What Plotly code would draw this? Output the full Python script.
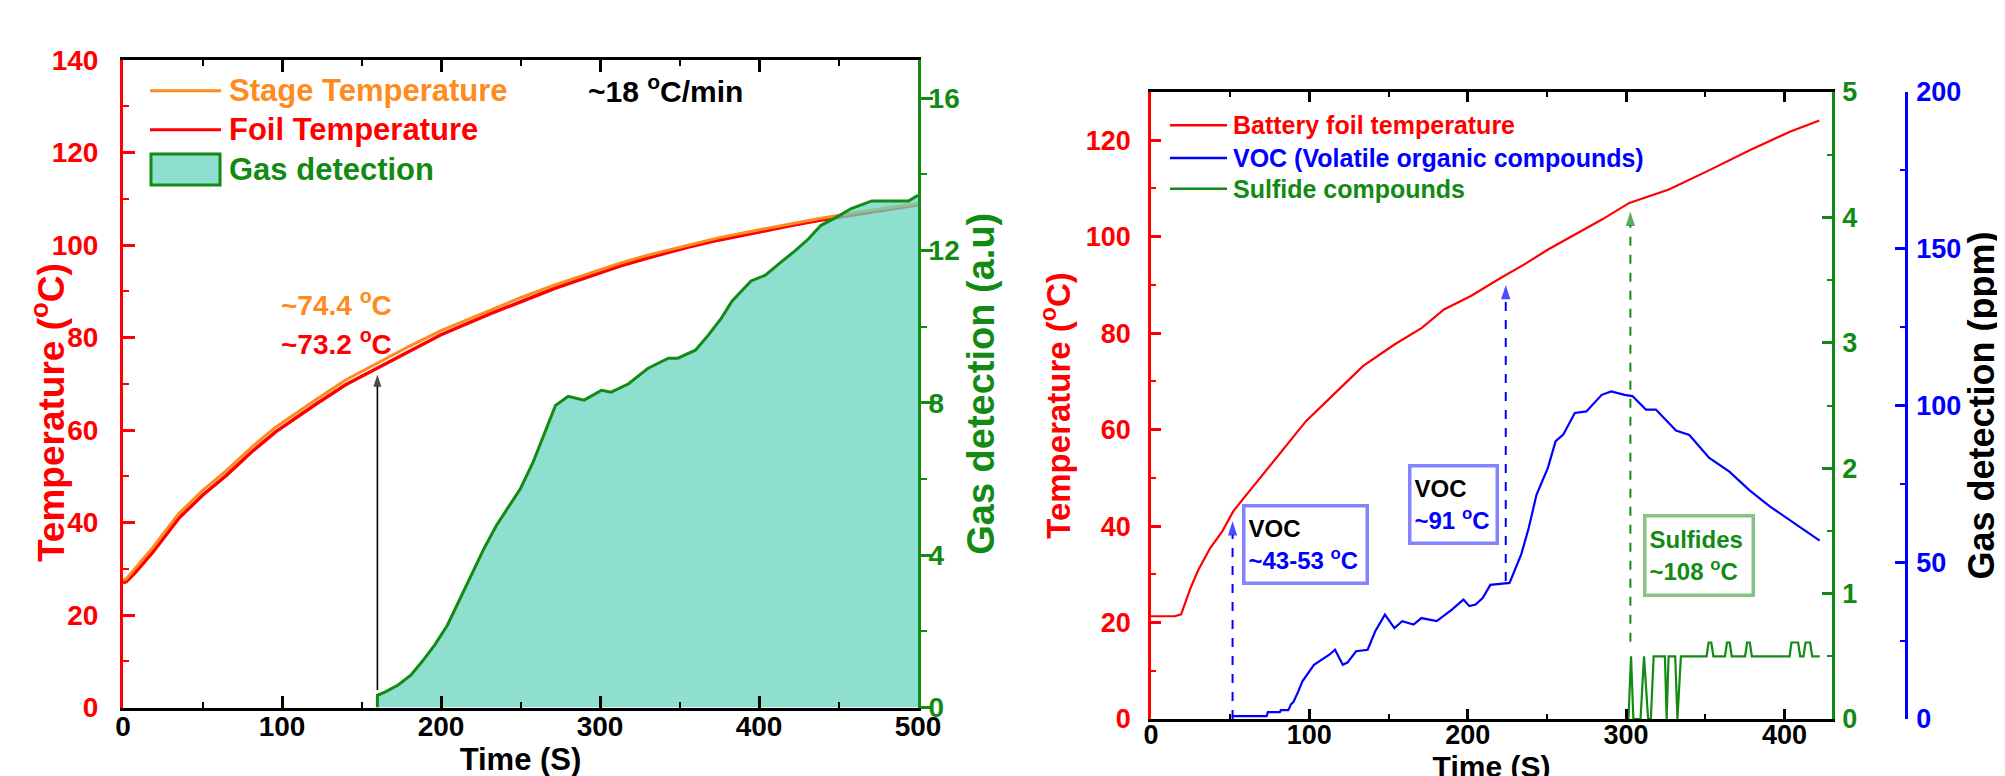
import plotly.graph_objects as go

W, H = 2005, 776

# ---------------- Left panel data ----------------
t_left = [0, 2, 8, 19, 35, 50, 65, 81, 96, 111, 121, 140, 160, 180, 200, 230, 250,
          272, 300, 313, 330, 355, 375, 397, 420, 439, 460, 480, 500]
foil_temp = [27.0, 27.2, 29.3, 33.7, 40.9, 45.9, 50.2, 55.3, 59.6, 63.2, 65.5, 69.8, 73.4,
             77.2, 80.6, 85.0, 87.8, 90.7, 94.0, 95.5, 97.2, 99.5, 101.1, 102.7, 104.2,
             105.4, 106.6, 107.7, 108.7]
stage_temp = [27.5, 27.8, 30.2, 34.7, 41.9, 46.9, 51.2, 56.3, 60.6, 64.2, 66.5, 70.8, 74.4,
              78.1, 81.5, 85.8, 88.6, 91.4, 94.6, 96.1, 97.8, 100.0, 101.6, 103.1, 104.6,
              105.8, 107.0, 108.0, 109.0]
gas_t = [160, 160, 165, 173, 181, 188, 196, 204, 211, 219, 227, 235, 242, 250, 258, 265,
         272, 280, 290, 301, 307, 318, 330, 343, 349, 360, 368, 376, 383, 395, 404, 414,
         423, 431, 439, 450, 458, 471, 481, 494, 500]
gas_signal = [0, 0.32, 0.41, 0.59, 0.85, 1.2, 1.64, 2.16, 2.77, 3.47, 4.17, 4.79, 5.23, 5.75,
              6.45, 7.2, 7.93, 8.17, 8.07, 8.33, 8.28, 8.5, 8.9, 9.17, 9.17, 9.38, 9.77,
              10.2, 10.67, 11.2, 11.35, 11.7, 12.0, 12.3, 12.66, 12.9, 13.1, 13.3, 13.3,
              13.3, 13.45]
left_arrow_t = [160, 160]
left_arrow_y = [3.8, 72.0]

# ---------------- Right panel data ----------------
t_right = [0, 15, 19, 22, 25, 30, 37.5, 45, 52, 62, 74, 86, 98, 110, 120, 134, 154, 171,
           185, 202, 221, 236, 251, 268, 285, 302, 327, 352, 378, 403, 422]
battery_temp = [21.3, 21.3, 21.7, 24.4, 27.2, 31.0, 35.5, 38.9, 43.1, 47.2, 52.1, 56.9,
                61.8, 65.6, 68.7, 73.2, 77.7, 81.1, 84.9, 87.7, 91.5, 94.3, 97.4, 100.5,
                103.6, 107.0, 109.8, 113.7, 117.9, 121.7, 124.1]
voc_t = [51, 60, 73, 73.8, 81.4, 82, 86.7, 88.3, 90, 93, 95.6, 102.9, 112.6, 116.2, 121.1,
         124, 129.5, 136.8, 141.6, 147.7, 153.7, 158.6, 165.8, 170.7, 180.4, 190, 197.3,
         201, 205, 209.4, 214.3, 226.4, 233.7, 238.5, 243.4, 250.6, 255.5, 260.3, 267.6,
         274.9, 284.6, 290.6, 299, 304, 312.5, 318.8, 331.5, 339.9, 352.5, 365.2, 377.8,
         390.5, 403.2, 422.2]
voc_ppm = [0.9, 0.9, 0.9, 2.2, 2.2, 2.8, 2.8, 4.6, 5.5, 8.8, 12, 17.3, 20.5, 22.1, 17.3, 18,
           21.6, 22.1, 28, 33.3, 29, 31.2, 30.1, 32.2, 31.2, 34.9, 38.1, 36, 36.5, 38.6,
           42.8, 43.4, 52.4, 60.9, 71.5, 80.1, 88.6, 90.7, 97.6, 98.1, 103.4, 104.5, 103.4,
           103, 98.7, 98.7, 92, 90.6, 83.3, 78.9, 73, 67.9, 63.5, 56.9]
sulfide_t = [301.5, 303.1, 304.6, 309.1, 311.3, 313.9, 315.6, 317.4, 324.5, 325.6, 326.8,
             331, 332.4, 334.6, 350.8, 352.1, 353.8, 355.1, 362.4, 363.7, 365.4, 366.7,
             375.1, 376.4, 378.1, 379.4, 403.2, 404.4, 408.6, 409.9, 412, 413.3, 416.2,
             417.5, 422.2]
sulfide_signal = [0, 0.5, 0, 0, 0.5, 0, 0, 0.5, 0.5, 0, 0.5, 0.5, 0, 0.5, 0.5, 0.61, 0.61,
                  0.5, 0.5, 0.61, 0.61, 0.5, 0.5, 0.61, 0.61, 0.5, 0.5, 0.61, 0.61, 0.5,
                  0.5, 0.61, 0.61, 0.5, 0.5]
right_arrow_t = [51.5, 224, 302.7]
right_arrow_from = [0, 28.6, 16]
right_arrow_to = [41.0, 90.0, 105.2]

# ---------------- styling ----------------
FONT = "Liberation Sans"
RED = "#FF0000"
ORANGE = "#FF8A1E"
GREEN = "#138A13"
BLUE = "#0000FF"
TEAL = "#8EDFD0"
BOXBLUE = "#8484FF"
BOXGREEN = "#84C484"


def px(x):
    return x / W


def py(y):
    return 1 - y / H


def bfont(size, color):
    return dict(family=FONT, size=size, color=color, weight="bold")


fig = go.Figure()

# Left panel traces
fig.add_trace(go.Scatter(x=t_left, y=foil_temp, name="Foil Temperature", mode="lines",
                         line=dict(color=RED, width=3.5), xaxis="x", yaxis="y"))
fig.add_trace(go.Scatter(x=t_left, y=stage_temp, name="Stage Temperature", mode="lines",
                         line=dict(color=ORANGE, width=3), xaxis="x", yaxis="y"))
fig.add_trace(go.Scatter(x=left_arrow_t, y=left_arrow_y, name="arrow", mode="lines+markers",
                         line=dict(color="black", width=1.6),
                         marker=dict(symbol="arrow", size=[0, 13], angleref="previous",
                                     color="black", line=dict(width=0)),
                         xaxis="x", yaxis="y", showlegend=False))
fig.add_trace(go.Scatter(x=gas_t, y=gas_signal, name="Gas detection", mode="lines",
                         fill="tozeroy", fillcolor="rgba(104,212,192,0.75)",
                         line=dict(color=GREEN, width=3), xaxis="x", yaxis="y2"))

# Right panel traces
fig.add_trace(go.Scatter(x=t_right, y=battery_temp, name="Battery foil temperature",
                         mode="lines", line=dict(color=RED, width=2.2),
                         xaxis="x2", yaxis="y3"))
arrow_cols = ["#0000FF", "#0000FF", "#138A13"]
for t, y0, y1, col in zip(right_arrow_t, right_arrow_from, right_arrow_to, arrow_cols):
    fig.add_trace(go.Scatter(x=[t, t], y=[y0, y1], mode="lines+markers", showlegend=False,
                             line=dict(color=col, width=2, dash="dash"),
                             marker=dict(symbol="arrow", size=[0, 15], angleref="previous",
                                         color=col, line=dict(width=0)),
                             xaxis="x2", yaxis="y3"))
fig.add_trace(go.Scatter(x=sulfide_t, y=sulfide_signal, name="Sulfide compounds",
                         mode="lines", line=dict(color=GREEN, width=2.2),
                         xaxis="x2", yaxis="y4"))
fig.add_trace(go.Scatter(x=voc_t, y=voc_ppm, name="VOC (Volatile organic compounds)",
                         mode="lines", line=dict(color=BLUE, width=2.2),
                         xaxis="x2", yaxis="y5"))

common = dict(showgrid=False, zeroline=False, showline=True)

fig.update_layout(
    width=W, height=H, template="none",
    margin=dict(l=0, r=0, t=0, b=0),
    paper_bgcolor="white", plot_bgcolor="rgba(0,0,0,0)",
    showlegend=False,
    xaxis=dict(
        **common, domain=[px(115), px(910)], range=[0, 500], anchor="y",
        linecolor="black", linewidth=3, mirror="ticks",
        ticks="inside", ticklen=12, tickwidth=2.5, tickcolor="black",
        tick0=0, dtick=100,
        minor=dict(dtick=50, ticks="inside", ticklen=6, tickwidth=2, tickcolor="black"),
        tickfont=bfont(28, "black"), ticklabelstandoff=-8,
        title=dict(text="Time (S)", font=bfont(31, "black"), standoff=0),
    ),
    yaxis=dict(
        **common, domain=[py(699.5), py(52)], range=[0, 140], anchor="x",
        linecolor=RED, linewidth=3,
        ticks="inside", ticklen=12, tickwidth=2.5, tickcolor=RED,
        tick0=0, dtick=20,
        minor=dict(dtick=10, ticks="inside", ticklen=6, tickwidth=2, tickcolor=RED),
        tickfont=bfont(28, RED), ticklabelstandoff=16,
    ),
    yaxis2=dict(
        **common, overlaying="y", side="right", anchor="x", range=[0, 17],
        linecolor=GREEN, linewidth=3,
        ticks="outside", ticklen=12, tickwidth=2.5, tickcolor=GREEN,
        tick0=0, dtick=4,
        minor=dict(dtick=2, ticks="outside", ticklen=6, tickwidth=2, tickcolor=GREEN),
        tickfont=bfont(28, GREEN), ticklabelstandoff=-10,
        title=dict(text="Gas detection (a.u)", font=bfont(38, GREEN), standoff=4),
    ),
    xaxis2=dict(
        **common, domain=[px(1143), px(1824)], range=[0, 430], anchor="y3",
        linecolor="black", linewidth=2.5, mirror="ticks",
        ticks="inside", ticklen=10, tickwidth=2.5, tickcolor="black",
        tick0=0, dtick=100,
        minor=dict(dtick=50, ticks="inside", ticklen=5, tickwidth=2, tickcolor="black"),
        tickfont=bfont(27, "black"), ticklabelstandoff=-10,
        title=dict(text="Time (S)", font=bfont(30, "black"), standoff=0),
    ),
    yaxis3=dict(
        **common, domain=[py(711), py(84)], range=[0, 130], anchor="x2",
        linecolor=RED, linewidth=2.5,
        ticks="inside", ticklen=10, tickwidth=2.5, tickcolor=RED,
        tick0=0, dtick=20,
        minor=dict(dtick=10, ticks="inside", ticklen=5, tickwidth=2, tickcolor=RED),
        tickfont=bfont(27, RED), ticklabelstandoff=12,
        title=dict(text="Temperature (<sup>o</sup>C)", font=bfont(33, RED), standoff=6),
    ),
    yaxis4=dict(
        **common, overlaying="y3", side="right", anchor="x2", range=[0, 5],
        linecolor=GREEN, linewidth=2.5,
        ticks="inside", ticklen=10, tickwidth=2.5, tickcolor=GREEN,
        tick0=0, dtick=1,
        minor=dict(dtick=0.5, ticks="inside", ticklen=5, tickwidth=2, tickcolor=GREEN),
        tickfont=bfont(27, GREEN), ticklabelstandoff=2,
    ),
    yaxis5=dict(
        **common, overlaying="y3", side="right", anchor="free", position=px(1898),
        range=[0, 200],
        linecolor=BLUE, linewidth=2.5,
        ticks="inside", ticklen=10, tickwidth=2.5, tickcolor=BLUE,
        tick0=0, dtick=50,
        minor=dict(dtick=25, ticks="inside", ticklen=5, tickwidth=2, tickcolor=BLUE),
        tickfont=bfont(27, BLUE), ticklabelstandoff=3,
        title=dict(text="Gas detection (ppm)", font=bfont(36, "black"), standoff=0),
    ),
)

shapes = []
annotations = []


def label(text, x, y, font, xanchor="center", **kw):
    annotations.append(dict(text=text, xref="paper", yref="paper", x=px(x), y=py(y),
                            xanchor=xanchor, yanchor="middle", showarrow=False,
                            font=font, **kw))


# Left y-axis title (placed as in the reference, slightly below centre)
label("Temperature (<sup>o</sup>C)", 40, 405, bfont(37, RED), textangle=-90)

# ---- Left legend (manual) ----
shapes.append(dict(type="line", xref="paper", yref="paper", x0=px(142), x1=px(213),
                   y0=py(82.7), y1=py(82.7), line=dict(color=ORANGE, width=3)))
shapes.append(dict(type="line", xref="paper", yref="paper", x0=px(142), x1=px(213),
                   y0=py(121.7), y1=py(121.7), line=dict(color=RED, width=3)))
shapes.append(dict(type="rect", xref="paper", yref="paper", x0=px(143), x1=px(212),
                   y0=py(177), y1=py(146), fillcolor=TEAL, line=dict(color=GREEN, width=3)))
for txt, col, yy in [("Stage Temperature", ORANGE, 82.7),
                     ("Foil Temperature", RED, 121.7),
                     ("Gas detection", GREEN, 161.7)]:
    label(txt, 219, yy, bfont(31, col), xanchor="left")

# ---- Right legend (manual) ----
for txt, col, yy in [("Battery foil temperature", RED, 117.3),
                     ("VOC (Volatile organic compounds)", BLUE, 150),
                     ("Sulfide compounds", GREEN, 180.7)]:
    shapes.append(dict(type="line", xref="paper", yref="paper", x0=px(1162), x1=px(1219),
                       y0=py(yy), y1=py(yy), line=dict(color=col, width=2.5)))
    label(txt, 1223, yy, bfont(25, col), xanchor="left")

# ---- Left panel annotations ----
label("~18 <sup>o</sup>C/min", 657, 81, bfont(30, "black"))
label("~74.4 <sup>o</sup>C", 328, 295, bfont(28, ORANGE))
label("~73.2 <sup>o</sup>C", 328, 334, bfont(28, RED))

# ---- Right panel text boxes ----
label("VOC<br><span style='color:#0000FF'>~43-53 <sup>o</sup>C</span>", 1297, 536,
      bfont(24, "black"), align="left", width=114, height=68,
      bordercolor=BOXBLUE, borderwidth=3.5, borderpad=3)
label("VOC<br><span style='color:#0000FF'>~91 <sup>o</sup>C</span>", 1445, 497,
      bfont(24, "black"), align="left", width=78, height=68,
      bordercolor=BOXBLUE, borderwidth=3.5, borderpad=3)
label("Sulfides<br>~108 <sup>o</sup>C", 1691, 547,
      bfont(24, GREEN), align="left", width=99, height=70,
      bordercolor=BOXGREEN, borderwidth=3.5, borderpad=3)

fig.update_layout(shapes=shapes, annotations=annotations)

fig.write_html("out.html")
